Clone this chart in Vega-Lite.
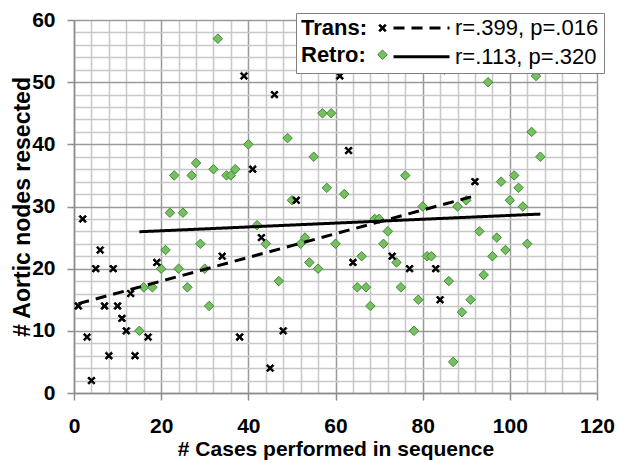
{
  "$schema": "https://vega.github.io/schema/vega-lite/v6.json",
  "width": 523,
  "height": 373,
  "autosize": {"type": "none"},
  "padding": {"left": 74, "top": 20, "right": 20, "bottom": 70},
  "background": "white",
  "config": {"view": {"stroke": null}, "font": "Liberation Sans"},
  "data": {
    "values": [
      {"series": "Retro", "x": 15, "y": 10}, {"series": "Retro", "x": 16, "y": 17}, {"series": "Retro", "x": 18, "y": 17},
      {"series": "Retro", "x": 20, "y": 20}, {"series": "Retro", "x": 21, "y": 23}, {"series": "Retro", "x": 22, "y": 29},
      {"series": "Retro", "x": 23, "y": 35}, {"series": "Retro", "x": 24, "y": 20}, {"series": "Retro", "x": 25, "y": 29},
      {"series": "Retro", "x": 26, "y": 17}, {"series": "Retro", "x": 27, "y": 35}, {"series": "Retro", "x": 28, "y": 37},
      {"series": "Retro", "x": 29, "y": 24}, {"series": "Retro", "x": 30, "y": 20}, {"series": "Retro", "x": 31, "y": 14},
      {"series": "Retro", "x": 32, "y": 36}, {"series": "Retro", "x": 33, "y": 57}, {"series": "Retro", "x": 35, "y": 35},
      {"series": "Retro", "x": 36, "y": 35}, {"series": "Retro", "x": 37, "y": 36}, {"series": "Retro", "x": 40, "y": 40},
      {"series": "Retro", "x": 42, "y": 27}, {"series": "Retro", "x": 44, "y": 24}, {"series": "Retro", "x": 47, "y": 18},
      {"series": "Retro", "x": 49, "y": 41}, {"series": "Retro", "x": 50, "y": 31}, {"series": "Retro", "x": 52, "y": 24},
      {"series": "Retro", "x": 53, "y": 25}, {"series": "Retro", "x": 54, "y": 21}, {"series": "Retro", "x": 55, "y": 38},
      {"series": "Retro", "x": 56, "y": 20}, {"series": "Retro", "x": 57, "y": 45}, {"series": "Retro", "x": 58, "y": 33},
      {"series": "Retro", "x": 59, "y": 45}, {"series": "Retro", "x": 60, "y": 24}, {"series": "Retro", "x": 62, "y": 32},
      {"series": "Retro", "x": 65, "y": 17}, {"series": "Retro", "x": 66, "y": 22}, {"series": "Retro", "x": 67, "y": 17},
      {"series": "Retro", "x": 68, "y": 14}, {"series": "Retro", "x": 69, "y": 28}, {"series": "Retro", "x": 70, "y": 28},
      {"series": "Retro", "x": 71, "y": 24}, {"series": "Retro", "x": 72, "y": 26}, {"series": "Retro", "x": 74, "y": 21},
      {"series": "Retro", "x": 75, "y": 17}, {"series": "Retro", "x": 76, "y": 35}, {"series": "Retro", "x": 78, "y": 10},
      {"series": "Retro", "x": 79, "y": 15}, {"series": "Retro", "x": 80, "y": 30}, {"series": "Retro", "x": 81, "y": 22},
      {"series": "Retro", "x": 82, "y": 22}, {"series": "Retro", "x": 85, "y": 52}, {"series": "Retro", "x": 86, "y": 18},
      {"series": "Retro", "x": 87, "y": 5}, {"series": "Retro", "x": 88, "y": 30}, {"series": "Retro", "x": 89, "y": 13},
      {"series": "Retro", "x": 90, "y": 31}, {"series": "Retro", "x": 91, "y": 15}, {"series": "Retro", "x": 93, "y": 26},
      {"series": "Retro", "x": 94, "y": 19}, {"series": "Retro", "x": 95, "y": 50}, {"series": "Retro", "x": 96, "y": 22},
      {"series": "Retro", "x": 97, "y": 25}, {"series": "Retro", "x": 98, "y": 34}, {"series": "Retro", "x": 99, "y": 23},
      {"series": "Retro", "x": 100, "y": 31}, {"series": "Retro", "x": 101, "y": 35}, {"series": "Retro", "x": 102, "y": 33},
      {"series": "Retro", "x": 103, "y": 30}, {"series": "Retro", "x": 104, "y": 24}, {"series": "Retro", "x": 105, "y": 42},
      {"series": "Retro", "x": 106, "y": 51}, {"series": "Retro", "x": 107, "y": 38},
      {"series": "Trans", "x": 1, "y": 14}, {"series": "Trans", "x": 2, "y": 28}, {"series": "Trans", "x": 3, "y": 9},
      {"series": "Trans", "x": 4, "y": 2}, {"series": "Trans", "x": 5, "y": 20}, {"series": "Trans", "x": 6, "y": 23},
      {"series": "Trans", "x": 7, "y": 14}, {"series": "Trans", "x": 8, "y": 6}, {"series": "Trans", "x": 9, "y": 20},
      {"series": "Trans", "x": 10, "y": 14}, {"series": "Trans", "x": 11, "y": 12}, {"series": "Trans", "x": 12, "y": 10},
      {"series": "Trans", "x": 13, "y": 16}, {"series": "Trans", "x": 14, "y": 6}, {"series": "Trans", "x": 17, "y": 9},
      {"series": "Trans", "x": 19, "y": 21}, {"series": "Trans", "x": 34, "y": 22}, {"series": "Trans", "x": 38, "y": 9},
      {"series": "Trans", "x": 39, "y": 51}, {"series": "Trans", "x": 41, "y": 36}, {"series": "Trans", "x": 43, "y": 25},
      {"series": "Trans", "x": 45, "y": 4}, {"series": "Trans", "x": 46, "y": 48}, {"series": "Trans", "x": 48, "y": 10},
      {"series": "Trans", "x": 51, "y": 31}, {"series": "Trans", "x": 61, "y": 51}, {"series": "Trans", "x": 63, "y": 39},
      {"series": "Trans", "x": 64, "y": 21}, {"series": "Trans", "x": 73, "y": 22}, {"series": "Trans", "x": 77, "y": 20},
      {"series": "Trans", "x": 83, "y": 20}, {"series": "Trans", "x": 84, "y": 15}, {"series": "Trans", "x": 92, "y": 34}
    ]
  },
  "layer": [
    {
      "mark": {"type": "point", "filled": true, "size": 90, "strokeWidth": 1, "opacity": 1},
      "encoding": {
        "x": {
          "field": "x", "type": "quantitative",
          "scale": {"domain": [0, 120], "nice": false, "zero": false},
          "axis": {
            "orient": "bottom", "values": [0, 20, 40, 60, 80, 100, 120],
            "grid": true, "gridColor": "#9a9a9a", "gridWidth": 1.5,
            "domainColor": "#8c8c8c", "domainWidth": 1.5,
            "tickColor": "#8c8c8c", "tickWidth": 1.5, "tickSize": 7,
            "labelFont": "Liberation Sans", "labelFontSize": 21, "labelFontWeight": "bold", "labelColor": "black",
            "labelPadding": 15, "labelFlush": false,
            "title": "# Cases performed in sequence", "titleFont": "Liberation Sans", "titleFontSize": 21,
            "titleFontWeight": "bold", "titleColor": "black", "titlePadding": 2
          }
        },
        "y": {
          "field": "y", "type": "quantitative",
          "scale": {"domain": [0, 60], "nice": false, "zero": false},
          "axis": {
            "orient": "left", "values": [0, 10, 20, 30, 40, 50, 60],
            "grid": true, "gridColor": "#9a9a9a", "gridWidth": 1.5,
            "domainColor": "#8c8c8c", "domainWidth": 1.5,
            "tickColor": "#8c8c8c", "tickWidth": 1.5, "tickSize": 7,
            "labelFont": "Liberation Sans", "labelFontSize": 21, "labelFontWeight": "bold", "labelColor": "black",
            "labelPadding": 12,
            "title": "# Aortic nodes resected", "titleFont": "Liberation Sans", "titleFontSize": 23,
            "titleFontWeight": "bold", "titleColor": "black", "titlePadding": -3
          }
        },
        "shape": {
          "field": "series", "type": "nominal",
          "scale": {"domain": ["Trans", "Retro"], "range": ["M-0.78,-0.51L-0.51,-0.78L0,-0.27L0.51,-0.78L0.78,-0.51L0.27,0L0.78,0.51L0.51,0.78L0,0.27L-0.51,0.78L-0.78,0.51L-0.27,0Z", "diamond"]},
          "legend": {"orient": "none", "legendX": 303, "legendY": -2, "zindex": 2, "title": null, "labelExpr": "''", "symbolSize": 90, "symbolStrokeWidth": 1, "clipHeight": 20, "rowPadding": 6.7, "padding": 0}
        },
        "fill": {
          "field": "series", "type": "nominal",
          "scale": {"domain": ["Trans", "Retro"], "range": ["#000000", "#77c062"]},
          "legend": {"orient": "none", "legendX": 303, "legendY": -2, "zindex": 2, "title": null, "labelExpr": "''", "symbolSize": 90, "symbolStrokeWidth": 1, "clipHeight": 20, "rowPadding": 6.7, "padding": 0}
        },
        "stroke": {
          "field": "series", "type": "nominal",
          "scale": {"domain": ["Trans", "Retro"], "range": ["#000000", "#3f8a33"]},
          "legend": {"orient": "none", "legendX": 303, "legendY": -2, "zindex": 2, "title": null, "labelExpr": "''", "symbolSize": 90, "symbolStrokeWidth": 1, "clipHeight": 20, "rowPadding": 6.7, "padding": 0}
        }
      }
    },
    {
      "transform": [{"regression": "y", "on": "x", "groupby": ["series"]}],
      "mark": {"type": "line", "color": "black", "strokeWidth": 3},
      "encoding": {
        "x": {
          "field": "x", "type": "quantitative",
          "scale": {"domain": [0, 120], "nice": false, "zero": false},
          "axis": {
            "orient": "bottom",
            "values": [4, 8, 12, 16, 24, 28, 32, 36, 44, 48, 52, 56, 64, 68, 72, 76, 84, 88, 92, 96, 104, 108, 112, 116],
            "grid": true, "gridColor": "#c8c8c8", "gridWidth": 1.5,
            "labels": false, "ticks": false, "domain": false, "title": null
          }
        },
        "y": {
          "field": "y", "type": "quantitative",
          "scale": {"domain": [0, 60], "nice": false, "zero": false},
          "axis": {
            "orient": "left",
            "values": [2, 4, 6, 8, 12, 14, 16, 18, 22, 24, 26, 28, 32, 34, 36, 38, 42, 44, 46, 48, 52, 54, 56, 58],
            "grid": true, "gridColor": "#c8c8c8", "gridWidth": 1.5,
            "labels": false, "ticks": false, "domain": false, "title": null
          }
        },
        "strokeDash": {
          "field": "series", "type": "nominal", "sort": "descending",
          "scale": {"range": [[11, 7], [1, 0]]},
          "legend": {
            "orient": "none", "legendX": 222, "legendY": -7, "zindex": 1,
            "title": ["Trans:", "Retro:"], "titleOrient": "left", "titleAnchor": "start",
            "titleFont": "Liberation Sans", "titleFontSize": 22, "titleFontWeight": "bold", "titleColor": "black",
            "titleLineHeight": 26.7, "titlePadding": 24, "titleBaseline": "top", "titleLimit": 200,
            "symbolType": "stroke", "symbolSize": 3136, "symbolStrokeWidth": 3, "symbolStrokeColor": "black",
            "labelExpr": "datum.label == 'Trans' ? 'r=.399, p=.016' : 'r=.113, p=.320'",
            "labelFont": "Liberation Sans", "labelFontSize": 22, "labelColor": "black", "labelOffset": 4, "labelLimit": 300,
            "clipHeight": 20, "rowPadding": 6.7, "padding": 5,
            "strokeColor": "#808080", "fillColor": "white"
          }
        }
      }
    }
  ],
  "resolve": {"axis": {"x": "independent", "y": "independent"}}
}
